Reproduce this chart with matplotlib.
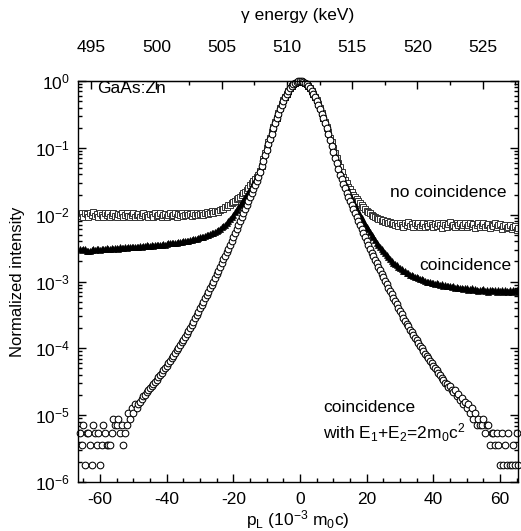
import numpy as np
import matplotlib
matplotlib.use("Agg")
import matplotlib.pyplot as plt
from matplotlib.ticker import FixedLocator, MultipleLocator, LogLocator, NullFormatter, FuncFormatter

plt.rcParams['font.family'] = ['Liberation Sans', 'DejaVu Sans']
plt.rcParams['mathtext.default'] = 'regular'
plt.rcParams['axes.unicode_minus'] = False

# longitudinal momentum channels (10^-3 m0c)
p_L = np.arange(-66, 66, 0.5)

# tick labels
x_ticks = [-60, -40, -20, 0, 20, 40, 60]
e_ticks = [495, 500, 505, 510, 515, 520, 525]

# log10 of normalized intensity
log_no_coinc = [
    -2.02, -1.98, -2.03, -1.97, -1.99, -2.04, -1.98, -2.01, -1.96, -2.02,
    -1.99, -2.03, -1.97, -2.00, -2.04, -1.98, -2.01, -1.97, -2.03, -2.00,
    -1.98, -2.02, -2.04, -1.99, -2.01, -1.97, -2.03, -2.00, -1.98, -2.02,
    -2.04, -2.00, -1.98, -2.03, -2.01, -1.99, -2.04, -2.00, -1.97, -2.02,
    -2.00, -2.03, -1.99, -2.01, -2.04, -1.98, -2.02, -2.00, -1.97, -2.03,
    -2.01, -1.99, -2.04, -2.00, -1.98, -2.02, -2.00, -1.97, -2.03, -1.99,
    -2.01, -1.98, -2.02, -2.00, -1.97, -2.01, -1.99, -2.02, -1.98, -2.00,
    -1.98, -2.01, -1.99, -1.97, -2.00, -1.98, -1.96, -1.99, -1.97, -1.95,
    -1.97, -1.95, -1.94, -1.96, -1.93, -1.91, -1.92, -1.89, -1.88, -1.86,
    -1.85, -1.83, -1.81, -1.79, -1.77, -1.75, -1.73, -1.71, -1.68, -1.66,
    -1.63, -1.60, -1.56, -1.53, -1.50, -1.47, -1.44, -1.40, -1.34, -1.27,
    -1.16, -1.08, -1.00, -0.92, -0.85, -0.77, -0.69, -0.62, -0.55, -0.48,
    -0.41, -0.35, -0.29, -0.24, -0.19, -0.15, -0.11, -0.075, -0.05, -0.027,
    -0.012, -0.003, 0.0, -0.003, -0.012, -0.027, -0.05, -0.075, -0.11, -0.15,
    -0.19, -0.24, -0.29, -0.35, -0.41, -0.48, -0.55, -0.62, -0.69, -0.77,
    -0.85, -0.92, -1.00, -1.08, -1.15, -1.22, -1.29, -1.36, -1.43, -1.48,
    -1.53, -1.58, -1.62, -1.66, -1.70, -1.74, -1.77, -1.80, -1.83, -1.86,
    -1.89, -1.92, -1.94, -1.96, -1.98, -2.00, -2.02, -2.04, -2.05, -2.07,
    -2.07, -2.09, -2.08, -2.11, -2.10, -2.13, -2.11, -2.14, -2.12, -2.16,
    -2.13, -2.17, -2.12, -2.15, -2.18, -2.13, -2.16, -2.11, -2.17, -2.14,
    -2.19, -2.13, -2.16, -2.12, -2.18, -2.15, -2.13, -2.19, -2.14, -2.17,
    -2.12, -2.16, -2.19, -2.14, -2.17, -2.12, -2.15, -2.20, -2.13, -2.16,
    -2.18, -2.14, -2.11, -2.17, -2.15, -2.19, -2.13, -2.16, -2.12, -2.18,
    -2.15, -2.13, -2.19, -2.16, -2.12, -2.17, -2.14, -2.20, -2.15, -2.13,
    -2.18, -2.15, -2.12, -2.19, -2.16, -2.14, -2.20, -2.15, -2.17, -2.13,
    -2.19, -2.16, -2.14, -2.21, -2.17, -2.15, -2.20, -2.18, -2.16, -2.22,
    -2.19, -2.17, -2.23, -2.20,
]

log_coinc = [
    -2.52, -2.53, -2.51, -2.52, -2.55, -2.54, -2.55, -2.53, -2.52, -2.53,
    -2.51, -2.52, -2.53, -2.52, -2.51, -2.52, -2.50, -2.51, -2.52, -2.50,
    -2.51, -2.50, -2.50, -2.51, -2.49, -2.50, -2.50, -2.49, -2.50, -2.49,
    -2.48, -2.49, -2.49, -2.48, -2.49, -2.48, -2.47, -2.48, -2.47, -2.47,
    -2.46, -2.47, -2.47, -2.46, -2.47, -2.46, -2.45, -2.46, -2.45, -2.45,
    -2.44, -2.45, -2.44, -2.43, -2.43, -2.43, -2.42, -2.42, -2.42, -2.41,
    -2.41, -2.41, -2.40, -2.40, -2.39, -2.39, -2.38, -2.38, -2.37, -2.37,
    -2.36, -2.35, -2.34, -2.34, -2.33, -2.32, -2.31, -2.30, -2.29, -2.28,
    -2.27, -2.26, -2.24, -2.23, -2.21, -2.19, -2.17, -2.15, -2.12, -2.09,
    -2.06, -2.03, -2.00, -1.96, -1.93, -1.89, -1.85, -1.82, -1.78, -1.74,
    -1.70, -1.66, -1.62, -1.58, -1.53, -1.49, -1.45, -1.40, -1.33, -1.25,
    -1.17, -1.09, -1.01, -0.93, -0.86, -0.78, -0.70, -0.62, -0.55, -0.48,
    -0.41, -0.35, -0.29, -0.24, -0.19, -0.15, -0.11, -0.075, -0.05, -0.027,
    -0.012, -0.003, 0.0, -0.003, -0.012, -0.027, -0.05, -0.075, -0.11, -0.15,
    -0.19, -0.24, -0.29, -0.35, -0.41, -0.48, -0.55, -0.62, -0.70, -0.78,
    -0.86, -0.93, -1.01, -1.09, -1.17, -1.25, -1.34, -1.40, -1.47, -1.53,
    -1.59, -1.65, -1.70, -1.76, -1.81, -1.86, -1.91, -1.96, -2.01, -2.05,
    -2.10, -2.14, -2.18, -2.22, -2.26, -2.30, -2.34, -2.38, -2.42, -2.45,
    -2.49, -2.52, -2.55, -2.58, -2.61, -2.64, -2.67, -2.69, -2.72, -2.74,
    -2.76, -2.78, -2.80, -2.82, -2.84, -2.85, -2.87, -2.88, -2.90, -2.91,
    -2.92, -2.93, -2.94, -2.95, -2.96, -2.97, -2.98, -2.99, -3.00, -3.00,
    -3.01, -3.02, -3.02, -3.03, -3.02, -3.04, -3.05, -3.04, -3.06, -3.05,
    -3.06, -3.07, -3.06, -3.08, -3.07, -3.09, -3.08, -3.10, -3.09, -3.10,
    -3.11, -3.10, -3.10, -3.12, -3.11, -3.10, -3.13, -3.11, -3.12, -3.14,
    -3.12, -3.13, -3.11, -3.14, -3.12, -3.16, -3.13, -3.12, -3.14, -3.13,
    -3.15, -3.12, -3.14, -3.13, -3.15, -3.12, -3.14, -3.16, -3.13, -3.15,
    -3.13, -3.14, -3.12, -3.15,
]

log_coinc_sum = [
    -5.27, -5.44, -5.14, -5.74, -5.27, -5.27, -5.44, -5.74, -5.14, -5.27,
    -5.44, -5.27, -5.74, -5.44, -5.14, -5.27, -5.44, -5.44, -5.44, -5.27,
    -5.05, -5.14, -5.14, -5.05, -5.27, -5.14, -5.44, -5.27, -5.14, -4.97,
    -5.05, -4.90, -4.97, -4.84, -4.90, -4.84, -4.80, -4.76, -4.72, -4.70,
    -4.66, -4.62, -4.59, -4.56, -4.53, -4.50, -4.47, -4.43, -4.40, -4.37,
    -4.33, -4.30, -4.26, -4.22, -4.19, -4.15, -4.11, -4.07, -4.03, -3.99,
    -3.95, -3.91, -3.87, -3.83, -3.78, -3.74, -3.69, -3.65, -3.60, -3.55,
    -3.50, -3.45, -3.40, -3.35, -3.30, -3.25, -3.20, -3.15, -3.10, -3.05,
    -3.00, -2.95, -2.89, -2.84, -2.78, -2.73, -2.67, -2.62, -2.56, -2.51,
    -2.45, -2.39, -2.33, -2.27, -2.21, -2.15, -2.09, -2.03, -1.97, -1.91,
    -1.85, -1.79, -1.73, -1.67, -1.61, -1.55, -1.49, -1.43, -1.36, -1.27,
    -1.19, -1.11, -1.03, -0.95, -0.87, -0.79, -0.71, -0.63, -0.56, -0.49,
    -0.42, -0.36, -0.30, -0.24, -0.19, -0.15, -0.11, -0.075, -0.05, -0.027,
    -0.012, -0.003, 0.0, -0.003, -0.012, -0.027, -0.05, -0.075, -0.11, -0.15,
    -0.19, -0.24, -0.30, -0.36, -0.42, -0.49, -0.56, -0.63, -0.71, -0.79,
    -0.88, -0.97, -1.06, -1.15, -1.23, -1.31, -1.40, -1.47, -1.54, -1.60,
    -1.67, -1.73, -1.79, -1.85, -1.92, -1.98, -2.04, -2.10, -2.16, -2.22,
    -2.28, -2.34, -2.40, -2.46, -2.51, -2.57, -2.62, -2.68, -2.73, -2.78,
    -2.83, -2.89, -2.94, -2.99, -3.04, -3.09, -3.14, -3.19, -3.24, -3.29,
    -3.34, -3.39, -3.44, -3.49, -3.54, -3.59, -3.63, -3.67, -3.72, -3.76,
    -3.80, -3.84, -3.88, -3.92, -3.96, -4.00, -4.04, -4.08, -4.11, -4.15,
    -4.19, -4.22, -4.26, -4.30, -4.33, -4.37, -4.40, -4.44, -4.47, -4.52,
    -4.53, -4.58, -4.56, -4.62, -4.66, -4.63, -4.72, -4.68, -4.78, -4.74,
    -4.84, -4.80, -4.90, -4.84, -4.97, -4.90, -5.05, -4.97, -5.14, -5.05,
    -5.14, -5.14, -5.05, -5.27, -5.14, -5.14, -5.44, -5.27, -5.27, -5.44,
    -5.27, -5.44, -5.74, -5.27, -5.74, -5.44, -5.74, -5.27, -5.74, -5.74,
    -5.44, -5.74, -5.27, -5.74,
]

y_sq = 10.0 ** np.array(log_no_coinc)
y_tri = 10.0 ** np.array(log_coinc)
y_circ = 10.0 ** np.array(log_coinc_sum)

FS = 12.5

fig = plt.figure(figsize=(5.21, 5.31), dpi=100)
ax = fig.add_axes([78 / 521, 49 / 531, 440 / 521, 401 / 531])

ax.plot(p_L, y_sq, linestyle='none', marker='s', markersize=5.0,
        markerfacecolor='white', markeredgecolor='#333333', markeredgewidth=0.7)
ax.plot(p_L, y_tri, linestyle='none', marker='^', markersize=4.3,
        markerfacecolor='black', markeredgecolor='black', markeredgewidth=0.5)
ax.plot(p_L, y_circ, linestyle='none', marker='o', markersize=4.8,
        markerfacecolor='white', markeredgecolor='black', markeredgewidth=0.75,
        clip_on=False)

ax.set_yscale('log')
ax.set_xlim(-66.6, 65.4)
ax.set_ylim(1e-6, 1.0)

ax.xaxis.set_major_locator(FixedLocator(x_ticks))
ax.xaxis.set_minor_locator(FixedLocator(np.arange(-65, 66, 5)))
ax.yaxis.set_major_locator(LogLocator(base=10, numticks=20))
ax.yaxis.set_minor_locator(LogLocator(base=10, subs=np.arange(2, 10), numticks=20))
ax.yaxis.set_minor_formatter(NullFormatter())
ax.yaxis.set_major_formatter(FuncFormatter(lambda v, pos: r'$10^{%d}$' % int(round(np.log10(v)))))

ax.tick_params(which='both', direction='in', top=False, right=True, labelsize=FS, width=1.0)
ax.tick_params(which='major', length=5.5)
ax.tick_params(which='minor', length=2.8)
ax.tick_params(axis='x', which='major', pad=7)
ax.tick_params(axis='y', which='major', pad=6)
for s in ax.spines.values():
    s.set_linewidth(1.0)

ax2 = ax.secondary_xaxis('top', functions=(lambda p: 511 + 0.2555 * p,
                                           lambda e: (e - 511) / 0.2555))
ax2.xaxis.set_major_locator(FixedLocator(e_ticks))
ax2.xaxis.set_minor_locator(FixedLocator(np.arange(495, 528, 2.5)))
ax2.tick_params(which='both', direction='in', labelsize=FS, width=1.0)
ax2.tick_params(which='major', length=5.5, pad=19)
ax2.tick_params(which='minor', length=2.8)
ax2.set_xlabel('γ energy (keV)', fontsize=FS, labelpad=14)

ax.set_xlabel(r'p$_L$ (10$^{-3}$ m$_0$c)', fontsize=FS, labelpad=1)
ax.set_ylabel('Normalized intensity', fontsize=12, labelpad=7)

ax.text(0.043, 0.981, 'GaAs:Zn', transform=ax.transAxes, fontsize=FS, ha='left', va='center')
ax.text(0.975, 0.721, 'no coincidence', transform=ax.transAxes, fontsize=FS, ha='right', va='center')
ax.text(0.986, 0.541, 'coincidence', transform=ax.transAxes, fontsize=FS, ha='right', va='center')
ax.text(0.557, 0.185, 'coincidence', transform=ax.transAxes, fontsize=FS, ha='left', va='center')
ax.text(0.557, 0.122, r'with E$_1$+E$_2$=2m$_0$c$^2$', transform=ax.transAxes, fontsize=FS,
        ha='left', va='center')

fig.savefig('out.png', dpi=100)
